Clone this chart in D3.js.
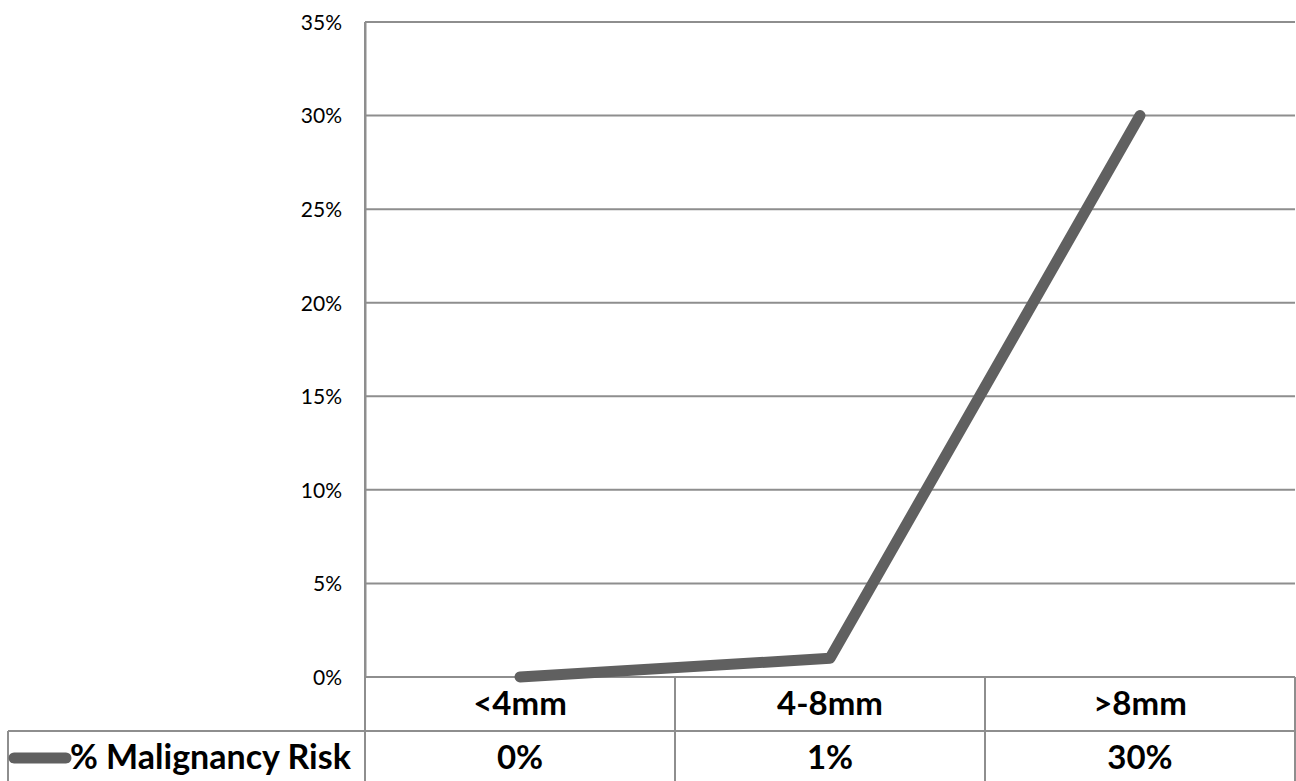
<!DOCTYPE html>
<html>
<head>
<meta charset="utf-8">
<script src="https://cdn.jsdelivr.net/npm/d3@7"></script>
<style>
  html, body { margin: 0; padding: 0; background: #fff; }
  svg { display: block; }
</style>
</head>
<body>
<svg id="chart" width="1296" height="781"></svg>
<script>
// Nodule size categories and malignancy risk
const categories = ["<4mm", "4-8mm", ">8mm"];
const riskValues = [0.00, 0.01, 0.30];
const riskLabels = ["0%", "1%", "30%"];
const seriesName = "% Malignancy Risk";
const yTicks = [0, 0.05, 0.10, 0.15, 0.20, 0.25, 0.30, 0.35];

const svg = d3.select("#chart");
const plot = { left: 365, right: 1295, top: 22, bottom: 677 };
const rowH = 54;
const gridColor = "#8e8e8e";
const lineColor = "#606060";
const font = "Lato, 'Open Sans', sans-serif";

const x = d3.scaleBand().domain(categories).range([plot.left, plot.right]);
const y = d3.scaleLinear().domain([0, 0.35]).range([plot.bottom, plot.top]);

// Horizontal gridlines
svg.append("g").selectAll("line").data(yTicks).join("line")
  .attr("x1", plot.left).attr("x2", plot.right)
  .attr("y1", d => y(d)).attr("y2", d => y(d))
  .attr("stroke", gridColor).attr("stroke-width", 2);

// Value axis
const yAxis = d3.axisLeft(y).tickValues(yTicks).tickFormat(d3.format(".0%")).tickSize(0).tickPadding(23);
const ya = svg.append("g").attr("transform", `translate(${plot.left},0)`).call(yAxis);
ya.select(".domain").attr("stroke", gridColor).attr("stroke-width", 2);
ya.selectAll("text").attr("font-family", font).attr("font-size", 21).attr("fill", "#000")
  .attr("dy", "0.35em");

// Axis line on the left of the plot, running down through the table
svg.append("line")
  .attr("x1", plot.left).attr("x2", plot.left)
  .attr("y1", plot.top).attr("y2", plot.bottom + rowH * 2)
  .attr("stroke", gridColor).attr("stroke-width", 2);

// Data table grid
const tableTop = plot.bottom;
const t = svg.append("g");
t.append("line").attr("x1", plot.left).attr("x2", plot.right)
  .attr("y1", tableTop).attr("y2", tableTop).attr("stroke", gridColor).attr("stroke-width", 2);
t.append("line").attr("x1", 8).attr("x2", plot.right)
  .attr("y1", tableTop + rowH).attr("y2", tableTop + rowH).attr("stroke", gridColor).attr("stroke-width", 2);
t.append("line").attr("x1", 8).attr("x2", 8)
  .attr("y1", tableTop + rowH).attr("y2", tableTop + rowH * 2).attr("stroke", gridColor).attr("stroke-width", 2);
t.selectAll("line.col").data(categories).join("line").attr("class", "col")
  .attr("x1", d => x(d) + x.bandwidth()).attr("x2", d => x(d) + x.bandwidth())
  .attr("y1", tableTop).attr("y2", tableTop + rowH * 2)
  .attr("stroke", gridColor).attr("stroke-width", 2);

// Category labels row
t.selectAll("text.cat").data(categories).join("text").attr("class", "cat")
  .attr("x", d => x(d) + x.bandwidth() / 2).attr("y", tableTop + 38)
  .attr("text-anchor", "middle").attr("font-family", font).attr("font-weight", "bold")
  .attr("font-size", 33).attr("fill", "#000").text(d => d);

// Values row
t.selectAll("text.val").data(riskLabels).join("text").attr("class", "val")
  .attr("x", (d, i) => x(categories[i]) + x.bandwidth() / 2).attr("y", tableTop + rowH + 38)
  .attr("text-anchor", "middle").attr("font-family", font).attr("font-weight", "bold")
  .attr("font-size", 33).attr("fill", "#000").text(d => d);

// Legend key and series name
t.append("line").attr("x1", 14).attr("x2", 66)
  .attr("y1", tableTop + rowH + 27).attr("y2", tableTop + rowH + 27)
  .attr("stroke", lineColor).attr("stroke-width", 11).attr("stroke-linecap", "round");
t.append("text").attr("x", 70).attr("y", tableTop + rowH + 38)
  .attr("font-family", font).attr("font-weight", "bold").attr("font-size", 34)
  .attr("fill", "#000").text(seriesName);

// Series line
const line = d3.line()
  .x((d, i) => x(categories[i]) + x.bandwidth() / 2)
  .y(d => y(d));
svg.append("path").datum(riskValues)
  .attr("d", line).attr("fill", "none")
  .attr("stroke", lineColor).attr("stroke-width", 11)
  .attr("stroke-linecap", "round").attr("stroke-linejoin", "round");
</script>
</body>
</html>
